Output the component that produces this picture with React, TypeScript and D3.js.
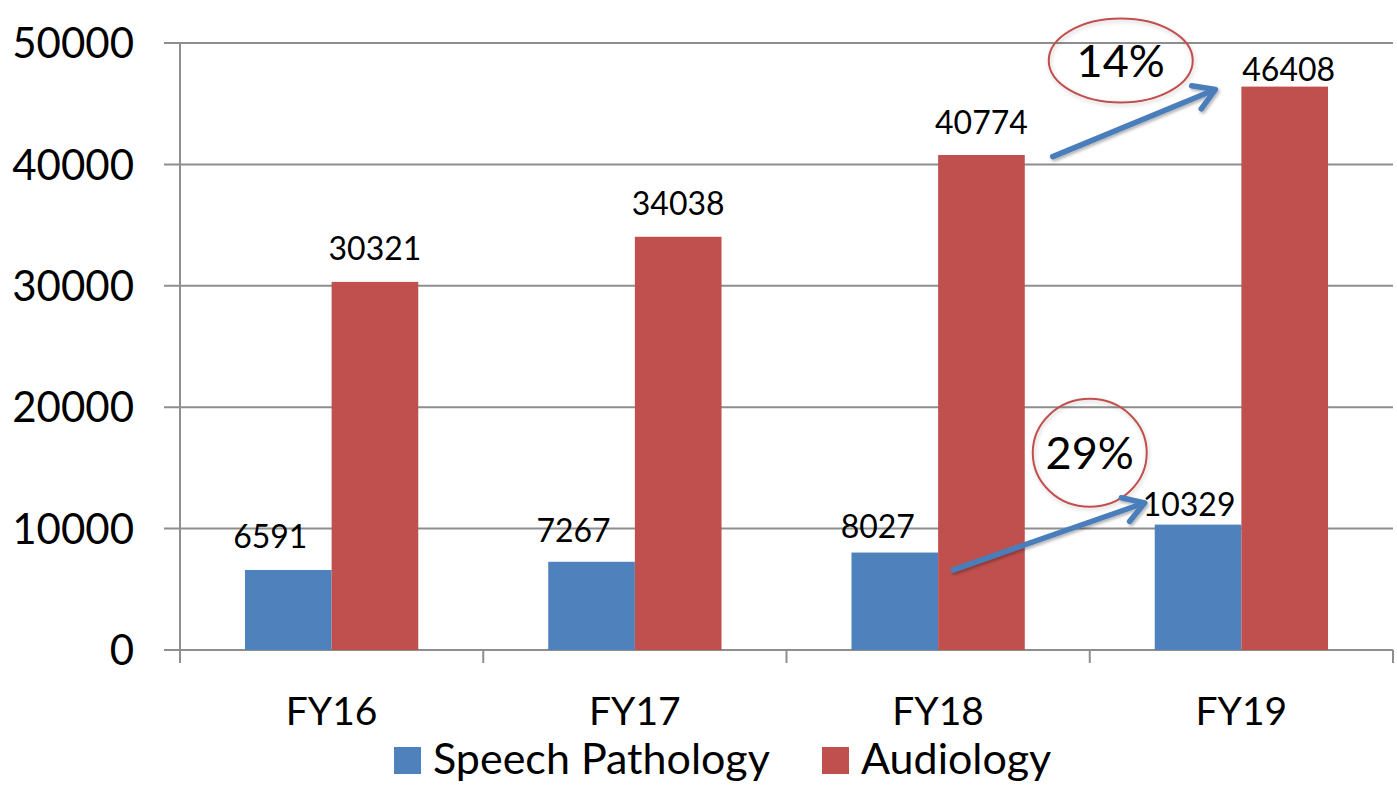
import { scaleBand, scaleLinear } from "d3";

const categories = ["FY16", "FY17", "FY18", "FY19"];
const seriesNames = ["Speech Pathology", "Audiology"];
const speechPathology = [6591, 7267, 8027, 10329];
const audiology = [30321, 34038, 40774, 46408];
const yTicks = [0, 10000, 20000, 30000, 40000, 50000];
const growthLabels = ["29%", "14%"];

const colors = ["#4f81bd", "#c0504d"];
const font = "Lato, 'Open Sans', sans-serif";

// hand nudges of the value labels (dx, dy), as they were dragged in the original
const labelNudge: Record<string, [number, number]> = {
  "Speech Pathology-FY16": [-18, 0],
  "Speech Pathology-FY17": [-18, 2],
  "Speech Pathology-FY18": [-17, 7],
  "Speech Pathology-FY19": [-9, 13],
  "Audiology-FY18": [0, 1],
  "Audiology-FY19": [4, 16],
};

function Arrow({ x1, y1, x2, y2 }: { x1: number; y1: number; x2: number; y2: number }) {
  const a = Math.atan2(y2 - y1, x2 - x1);
  const len = 24;
  const spread = 0.55;
  const h1 = [x2 - len * Math.cos(a - spread), y2 - len * Math.sin(a - spread)];
  const h2 = [x2 - len * Math.cos(a + spread), y2 - len * Math.sin(a + spread)];
  return (
    <g filter="url(#shadow)" stroke="#4a7ebb" strokeWidth={5.5} strokeLinecap="round" fill="none">
      <line x1={x1} y1={y1} x2={x2 - 2 * Math.cos(a)} y2={y2 - 2 * Math.sin(a)} />
      <polyline points={`${h1[0]},${h1[1]} ${x2},${y2} ${h2[0]},${h2[1]}`} strokeLinejoin="round" />
    </g>
  );
}

export default function App() {
  const width = 1397;
  const height = 785;
  const margin = { top: 43, right: 4, bottom: 135, left: 180 };
  const plotBottom = height - margin.bottom;

  const x0 = scaleBand<string>()
    .domain(categories)
    .range([margin.left, width - margin.right])
    .padding(0);
  const x1 = scaleBand<string>()
    .domain(seriesNames)
    .range([0, x0.bandwidth()])
    .paddingInner(0)
    .paddingOuter(0.75);
  const y = scaleLinear().domain([0, 50000]).range([plotBottom, margin.top]);

  const series = [speechPathology, audiology];
  const boundaries = [...categories.map((c) => x0(c)!), width - margin.right];

  const fy18 = x0("FY18")!;
  const fy19 = x0("FY19")!;
  const bw = x1.bandwidth();

  return (
    <svg
      width={width}
      height={height}
      style={{ position: "absolute", left: 0, top: 0, background: "#fff" }}
      fontFamily={font}
    >
      <defs>
        <filter id="shadow" x="-20%" y="-20%" width="140%" height="140%">
          <feDropShadow dx="1.5" dy="2" stdDeviation="1.5" floodColor="#000" floodOpacity="0.3" />
        </filter>
        <filter id="glow" x="-20%" y="-20%" width="140%" height="140%">
          <feDropShadow dx="1" dy="2" stdDeviation="2" floodColor="#000" floodOpacity="0.2" />
        </filter>
      </defs>

      {/* gridlines and y ticks */}
      {yTicks.map((t) => (
        <g key={t}>
          <line
            x1={margin.left - 16}
            x2={width - margin.right}
            y1={y(t)}
            y2={y(t)}
            stroke="#8e8e8e"
            strokeWidth={2}
          />
          <text
            x={margin.left - 46}
            y={y(t)}
            dy="0.36em"
            textAnchor="end"
            fontSize={42}
            fill="#000"
          >
            {t}
          </text>
        </g>
      ))}

      {/* axes */}
      <line
        x1={margin.left}
        x2={margin.left}
        y1={margin.top}
        y2={plotBottom + 13}
        stroke="#8e8e8e"
        strokeWidth={2}
      />
      {boundaries.map((b, i) => (
        <line key={i} x1={b} x2={b} y1={plotBottom} y2={plotBottom + 13} stroke="#8e8e8e" strokeWidth={2} />
      ))}

      {/* bars */}
      {series.map((vals, si) =>
        vals.map((v, ci) => (
          <rect
            key={`${si}-${ci}`}
            x={x0(categories[ci])! + x1(seriesNames[si])!}
            y={y(v)}
            width={bw}
            height={plotBottom - y(v)}
            fill={colors[si]}
          />
        ))
      )}

      {/* value labels */}
      {series.map((vals, si) =>
        vals.map((v, ci) => {
          const key = `${seriesNames[si]}-${categories[ci]}`;
          const [dx, dy] = labelNudge[key] ?? [0, 0];
          return (
            <text
              key={key}
              x={x0(categories[ci])! + x1(seriesNames[si])! + bw / 2 + dx}
              y={y(v) - 22 + dy}
              textAnchor="middle"
              fontSize={32}
              fill="#000"
            >
              {v}
            </text>
          );
        })
      )}

      {/* category labels */}
      {categories.map((c) => (
        <text
          key={c}
          x={x0(c)! + x0.bandwidth() / 2}
          y={725}
          textAnchor="middle"
          fontSize={39}
          fill="#000"
        >
          {c}
        </text>
      ))}

      {/* growth annotations */}
      <ellipse
        cx={fy19}
        cy={y(16240)}
        rx={57}
        ry={54}
        fill="none"
        stroke="#c0504d"
        strokeWidth={2}
        filter="url(#glow)"
      />
      <text x={fy19} y={y(16240)} dy="0.36em" textAnchor="middle" fontSize={45} fill="#000">
        {growthLabels[0]}
      </text>
      <Arrow
        x1={fy18 + x1("Audiology")! + 15}
        y1={y(6600)}
        x2={fy19 + x1("Speech Pathology")! - 10}
        y2={y(12120)}
      />

      <ellipse
        cx={fy19 + 31}
        cy={y(48560)}
        rx={72}
        ry={42}
        fill="none"
        stroke="#c0504d"
        strokeWidth={2}
        filter="url(#glow)"
      />
      <text x={fy19 + 31} y={y(48560)} dy="0.36em" textAnchor="middle" fontSize={45} fill="#000">
        {growthLabels[1]}
      </text>
      <Arrow
        x1={fy18 + x1("Audiology")! + bw + 28}
        y1={y(40640)}
        x2={fy19 + x1("Audiology")! - 26}
        y2={y(46170)}
      />

      {/* legend */}
      {seriesNames.map((name, i) => {
        const lx = i === 0 ? 394 : 822;
        return (
          <g key={name}>
            <rect x={lx} y={747} width={27} height={27} fill={colors[i]} />
            <text x={lx + 39} y={774} fontSize={43} fill="#000">
              {name}
            </text>
          </g>
        );
      })}
    </svg>
  );
}
